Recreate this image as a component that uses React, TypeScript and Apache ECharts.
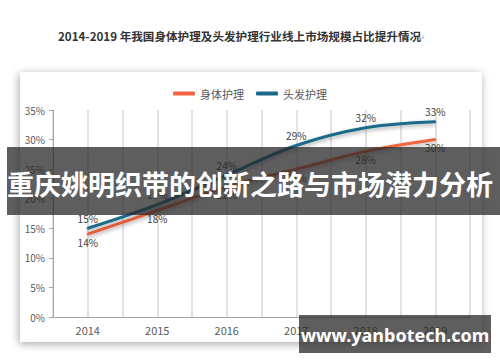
import React, { useEffect, useRef } from "react";
import * as echarts from "echarts";

const years = ["2014", "2015", "2016", "2017", "2018", "2019"];
const bodyCare = [14, 18, 22, 25, 28, 30];
const hairCare = [15, 19, 24, 29, 32, 33];
const seriesNames = ["身体护理", "头发护理"];
const yTicks = [0, 5, 10, 15, 20, 25, 30, 35];
const title = "2014-2019 年我国身体护理及头发护理行业线上市场规模占比提升情况";
const bannerText = "重庆姚明织带的创新之路与市场潜力分析";
const watermark = "www.yanbotech.com";

export default function App() {
  const ref = useRef<HTMLDivElement>(null);
  useEffect(() => {
    if (!ref.current) return;
    const chart = echarts.init(ref.current, undefined, { renderer: "svg" });
    const font = "'Noto Sans CJK SC', 'Noto Sans', sans-serif";
    const lineSeries = (name: string, data: number[], color: string, pos: string) => ({
      name,
      type: "line",
      data,
      smooth: 0.35,
      symbol: "circle",
      symbolSize: 2,
      color,
      lineStyle: {
        width: 3,
        color,
        shadowColor: "rgba(0,0,0,0.35)",
        shadowBlur: 4,
        shadowOffsetY: 2,
      },
      label: {
        show: true,
        position: pos,
        distance: pos === "bottom" ? 2 : 4,
        formatter: (p: any) => p.value + "%",
        color: "#404040",
        fontSize: 10,
        fontFamily: font,
      },
      z: 3,
    });
    chart.setOption({
      animation: false,
      backgroundColor: "#ffffff",
      textStyle: { fontFamily: font },
      graphic: [
        {
          type: "rect",
          z: -10,
          silent: true,
          shape: { x: 20, y: 72, width: 462, height: 270 },
          style: {
            fill: "#ffffff",
            shadowBlur: 8,
            shadowColor: "rgba(0,0,0,0.35)",
            shadowOffsetX: -1,
            shadowOffsetY: 2,
          },
        },
        {
          type: "text",
          x: 58,
          y: 36,
          style: {
            text: title,
            fill: "#333333",
            font: "bold 11.6px 'Noto Sans CJK SC', sans-serif",
            verticalAlign: "middle",
          },
        },
        {
          type: "text",
          x: 418,
          y: 37,
          style: {
            text: "↵",
            fill: "#aaaaaa",
            font: "9px 'Noto Sans CJK SC', sans-serif",
            verticalAlign: "middle",
          },
        },
        {
          type: "rect",
          z: 100,
          shape: { x: 7, y: 147, width: 493, height: 68 },
          style: { fill: "rgba(40,40,40,0.75)" },
        },
        {
          type: "text",
          z: 101,
          x: 250,
          y: 183,
          style: {
            text: bannerText,
            fill: "#ffffff",
            font: "bold 27px 'Noto Sans CJK SC', sans-serif",
            align: "center",
            verticalAlign: "middle",
          },
        },
        {
          type: "rect",
          z: 100,
          shape: { x: 299, y: 315, width: 192, height: 38 },
          style: { fill: "rgba(40,40,40,0.75)" },
        },
        {
          type: "text",
          z: 101,
          x: 395,
          y: 335,
          style: {
            text: watermark,
            fill: "#ffffff",
            font: "bold 18px 'Noto Sans', sans-serif",
            align: "center",
            verticalAlign: "middle",
          },
        },
      ],
      legend: {
        data: seriesNames,
        top: 83,
        left: "center",
        icon: "roundRect",
        itemWidth: 22,
        itemHeight: 4,
        itemGap: 12,
        textStyle: { color: "#595959", fontSize: 11, fontFamily: font },
      },
      grid: { left: 53, right: 30, top: 110, bottom: 45 },
      xAxis: [
        {
          type: "category",
          data: years,
          boundaryGap: true,
          axisLine: { show: true, lineStyle: { color: "#a6a6a6", width: 1 } },
          axisTick: { show: false },
          axisLabel: { color: "#595959", fontSize: 11, margin: 7 },
          splitLine: { show: false },
        },
        {
          type: "value",
          min: 0,
          max: 6,
          interval: 0.5,
          position: "bottom",
          axisLine: { show: false },
          axisTick: { show: false },
          axisLabel: { show: false },
          splitLine: { show: true, lineStyle: { color: "#d9d9d9", width: 1.5 } },
        },
      ],
      yAxis: {
        type: "value",
        min: 0,
        max: 35,
        interval: 5,
        axisLine: { show: true, lineStyle: { color: "#a6a6a6" } },
        axisTick: { show: true, length: 4, lineStyle: { color: "#a6a6a6" } },
        axisLabel: {
          color: "#595959",
          fontSize: 10,
          margin: 8,
          formatter: (v: number) => (yTicks.includes(v) ? v + "%" : ""),
        },
        splitLine: { show: false },
      },
      series: [
        lineSeries(seriesNames[0], bodyCare, "#f0653f", "bottom"),
        lineSeries(seriesNames[1], hairCare, "#1c6a8a", "top"),
      ],
    });
    return () => chart.dispose();
  }, []);
  return (
    <div
      ref={ref}
      style={{ position: "fixed", left: 0, top: 0, width: 500, height: 362 }}
    />
  );
}
